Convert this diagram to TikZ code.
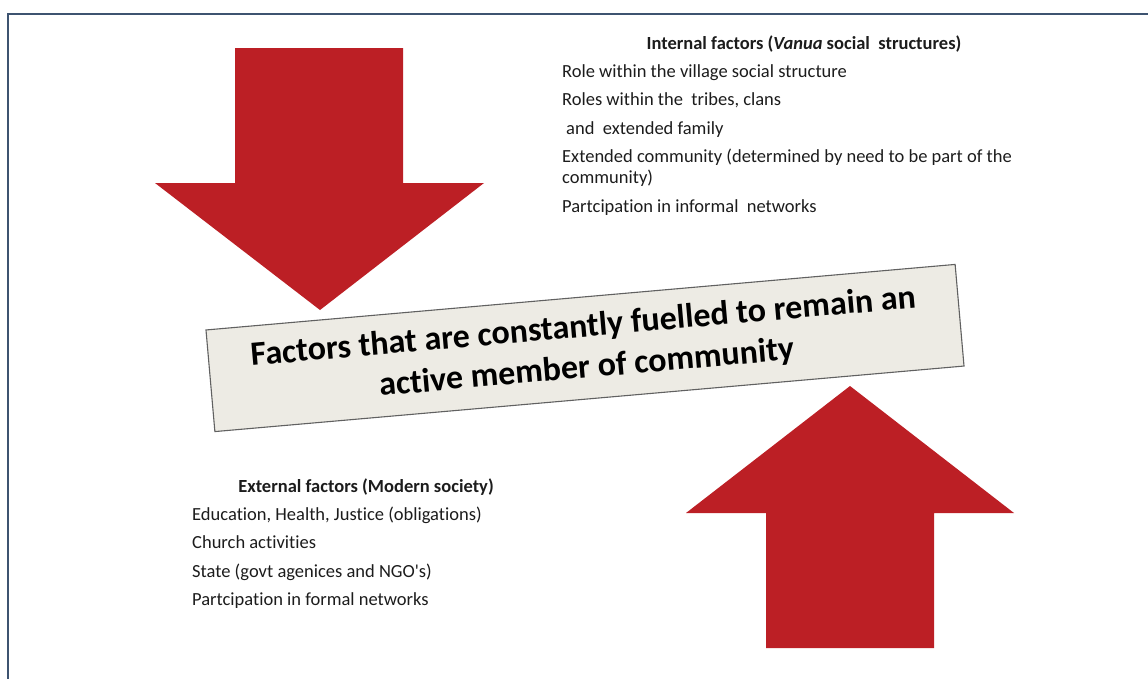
\documentclass[tikz,border=0pt]{standalone}
\usepackage{fontspec}
\defaultfontfeatures[\rmfamily]{}
\setmainfont{Carlito}[Ligatures=NoCommon]
\usepackage{xcolor}
\usepackage{tikz}
\usetikzlibrary{positioning}
\definecolor{arrowred}{HTML}{BC1F25}
\definecolor{framecol}{HTML}{3D5370}
\definecolor{bannerfill}{HTML}{EDEBE4}
\definecolor{ink}{HTML}{1C1C1C}
\tikzset{
  frame/.style={draw=framecol,line width=2.6pt},
  bigarrow/.style={fill=arrowred,draw=none},        % block arrows
  item/.style={anchor=base west,inner sep=0pt,text=ink,
               font=\fontsize{18.5}{22}\selectfont},
  head/.style={anchor=base,inner sep=0pt,text=ink,
               font=\fontsize{18.5}{22}\selectfont\bfseries},
  banner/.style={draw=black!62,fill=bannerfill,line width=1.1pt,
                 minimum width=752pt,minimum height=102pt,align=center,
                 text=black,font=\fontsize{34}{41}\selectfont\bfseries}
}

\begin{document}
\begin{tikzpicture}[x=1pt,y=-1pt]
  \useasboundingbox (0,0) rectangle (1148,678);
  \draw[frame] (8,680) -- (8,14) -- (1150,14);

  % arrows into the banner
  \fill[bigarrow] (235,48) -- (403,48) -- (403,183) -- (484,183)
    -- (320,310) -- (155,183) -- (235,183) -- cycle;
  \fill[bigarrow] (766,648) -- (934,648) -- (934,513) -- (1014,513)
    -- (850,386) -- (686,513) -- (766,513) -- cycle;

  \node[banner,rotate=5] (core) at (585,348)
    {Factors that are constantly fuelled to remain an\\
     active member of community};

  % vanua side
  \node[head] (inhead) at (804,49) {Internal factors (\textit{Vanua} social~ structures)};
  \node[item] (in1) at (562,77) {Role within the village social structure};
  \node[item] (in2) at (562,105) {Roles within the~ tribes, clans};
  \node[item] (in3) at (566,134) {and~ extended family};
  \node[item] (in4) at (562,162) {Extended community (determined by need to be part of the};
  \node[item] (in4b) at (562,183) {community)};
  \node[item] (in5) at (562,212) {Partcipation in informal~ networks};

  % modern side
  \node[head] (exhead) at (366,492) {External factors (Modern society)};
  \node[item] (ex1) at (192,520) {Education, Health, Justice (obligations)};
  \node[item] (ex2) at (192,548) {Church activities};
  \node[item] (ex3) at (192,577) {State (govt agenices and NGO's)};
  \node[item] (ex4) at (192,605) {Partcipation in formal networks};
\end{tikzpicture}
\end{document}
